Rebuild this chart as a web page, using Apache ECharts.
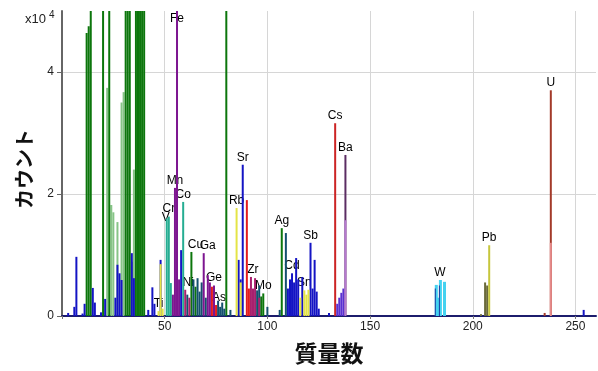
<!DOCTYPE html>
<html>
<head>
<meta charset="utf-8">
<script src="https://cdn.jsdelivr.net/npm/echarts@6/dist/echarts.min.js"></script>
<style>
  html, body { margin: 0; padding: 0; background: #ffffff; }
  #chart { width: 598px; height: 371px; }
</style>
</head>
<body>
<div id="chart"></div>
<script>
// Mass spectrum: counts (x10^4) per mass number, grouped by trace colour.
const massTicks = [0, 50, 100, 150, 200, 250];
const massLabels = [50, 100, 150, 200, 250];
const countTicks = [0, 2, 4];
const countMax = 5;
const massMax = 260;

// major (off-scale) matrix peaks and some element isotopes
const darkGreenMass  = [12, 13, 14, 20, 23, 31, 32, 33, 36, 37, 38, 39, 40, 80, 63, 65, 97, 98, 107];
const darkGreenCount = [4.64, 4.75, 8.5, 8.0, 8.8, 7.5, 9.0, 8.0, 7.2, 8.5, 9.0, 9.5, 9.9, 8.0, 1.05, 0.48, 0.32, 0.37, 1.44];

const lightGreenMass  = [22, 24, 25, 27, 29, 30, 34, 35];
const lightGreenCount = [3.74, 1.82, 1.7, 1.54, 3.5, 3.67, 0.89, 2.4];

const blueMass  = [3, 6, 7, 10, 11, 15, 16, 19, 21, 26, 27, 28, 29, 34, 35, 42, 44, 45, 48, 58, 86, 87, 88,
                   110, 111, 112, 113, 114, 115, 117, 121, 122, 123, 124, 125, 130, 254];
const blueCount = [0.05, 0.15, 0.97, 0.04, 0.2, 0.46, 0.22, 0.06, 0.28, 0.3, 0.84, 0.7, 0.59, 1.03, 0.62, 0.1, 0.47, 0.2, 0.92, 1.08, 0.92, 0.6, 2.48,
                   0.45, 0.6, 0.7, 0.55, 0.95, 0.6, 0.64, 1.2, 0.45, 0.92, 0.4, 0.12, 0.05, 0.1];

const darkTealMass  = [61, 64, 66, 67, 68, 70, 76, 77, 78, 79, 82, 95, 96, 100, 106, 109];
const darkTealCount = [0.35, 0.6, 0.62, 0.4, 0.55, 0.3, 0.25, 0.15, 0.22, 0.12, 0.1, 0.42, 0.5, 0.15, 0.1, 1.36];

const tealMass  = [51, 52, 53, 59];
const tealCount = [1.6, 1.63, 0.54, 1.87];

const yellowMass  = [47, 48, 49, 85, 87, 116, 118, 119, 120];
const yellowCount = [0.08, 0.85, 0.12, 1.77, 0.55, 0.3, 0.42, 0.35, 0.43];

const redMass  = [73, 75, 90, 91];
const redCount = [0.48, 0.18, 1.9, 0.45];

const crimsonMass  = [133];
const crimsonCount = [3.16];

const magentaMass  = [60, 62, 92, 93, 94, 96];
const magentaCount = [0.43, 0.3, 0.64, 0.45, 0.62, 0.3];

const purpleMass  = [54, 55, 56, 57, 69, 71, 72, 74];
const purpleCount = [0.35, 2.1, 9.0, 0.6, 1.03, 0.67, 0.55, 0.5];

const plumMass  = [138];
const plumCount = [2.64];

const violetMass  = [134, 135, 136, 137];
const violetCount = [0.2, 0.3, 0.38, 0.45];

const lilacMass  = [138];
const lilacCount = [1.57];

const cyanMass  = [182, 183, 184, 186];
const cyanCount = [0.51, 0.3, 0.59, 0.56];

// thin dark cores of the tungsten peaks
const navyMass  = [182, 184];
const navyCount = [0.45, 0.5];

const oliveMass  = [204, 206, 207];
const oliveCount = [0.03, 0.55, 0.5];

const goldMass  = [208];
const goldCount = [1.16];

const brownMass  = [235, 238];
const brownCount = [0.05, 3.7];

const roseMass  = [238];
const roseCount = [1.2];

// element labels: name, mass and the trace whose peak carries it
const labelNames = ['Fe', 'Mn', 'Co', 'Cr', 'V', 'Cu', 'Ga', 'Ni', 'Ti', 'Ge', 'As', 'Rb', 'Sr', 'Zr', 'Mo',
                    'Ag', 'Cd', 'Sn', 'Sb', 'Cs', 'Ba', 'W', 'Pb', 'U'];
const labelMass  = [56, 55, 59, 52, 51, 63, 69, 60, 47, 74, 75, 85, 88, 92, 98,
                    107, 112, 118, 121, 133, 138, 184, 208, 238];
const labelTrace = ['purple', 'purple', 'teal', 'teal', 'teal', 'darkGreen', 'purple', 'magenta', 'yellow', 'purple', 'red',
                    'yellow', 'blue', 'magenta', 'darkGreen', 'darkGreen', 'blue', 'yellow', 'blue', 'crimson', 'plum',
                    'cyan', 'gold', 'brown'];

const palette = {
  lightGreen: '#86c486', darkGreen: '#0c760c', blue: '#1414c4', darkTeal: '#14506e',
  teal: '#25ad92', yellow: '#e4e446', red: '#e41c1c', crimson: '#cc2424', magenta: '#a8206e',
  purple: '#7d1590', plum: '#5b2d63', violet: '#5a30d0', lilac: '#b67ad0', cyan: '#44d2f0',
  navy: '#1a3aa0', olive: '#6a6a3a', gold: '#c6c63c', brown: '#a33a2a', rose: '#e58a8a'
};

// drawing order: later traces sit in front; last column is the bar width in px
const traces = [
  ['lightGreen', lightGreenMass, lightGreenCount, 2],
  ['darkGreen', darkGreenMass, darkGreenCount, 2],
  ['blue', blueMass, blueCount, 2],
  ['darkTeal', darkTealMass, darkTealCount, 2],
  ['teal', tealMass, tealCount, 2],
  ['yellow', yellowMass, yellowCount, 2],
  ['red', redMass, redCount, 2],
  ['crimson', crimsonMass, crimsonCount, 2],
  ['magenta', magentaMass, magentaCount, 2],
  ['purple', purpleMass, purpleCount, 2],
  ['plum', plumMass, plumCount, 2],
  ['violet', violetMass, violetCount, 2],
  ['lilac', lilacMass, lilacCount, 2],
  ['cyan', cyanMass, cyanCount, 3],
  ['navy', navyMass, navyCount, 1],
  ['olive', oliveMass, oliveCount, 2],
  ['gold', goldMass, goldCount, 2],
  ['brown', brownMass, brownCount, 2],
  ['rose', roseMass, roseCount, 2]
];

const traceByName = {};
traces.forEach(([key, m, c]) => { traceByName[key] = { m, c }; });

const barSeries = traces.map(([key, m, c, w]) => ({
  type: 'bar',
  name: key,
  data: m.map((x, i) => [x, c[i]]),
  barWidth: w,
  barGap: '-100%',
  itemStyle: { color: palette[key] },
  clip: true,
  silent: true,
  z: 2
}));

// small nudges where neighbouring labels would collide
const labelNudge = { Cu: [4, 0], Ga: [4, 0], V: [-1, 7], Ni: [3, 0], As: [3, 0], Zr: [2, 0] };

const labelData = labelNames.map((name, i) => {
  const t = traceByName[labelTrace[i]];
  const v = t.c[t.m.indexOf(labelMass[i])];
  const clipped = v > countMax;
  return {
    name,
    value: [labelMass[i], Math.min(v, countMax)],
    label: { position: clipped ? 'bottom' : 'top', distance: 1, offset: labelNudge[name] || [0, 0] }
  };
});

const labelSeries = {
  type: 'scatter',
  data: labelData,
  symbol: 'rect',
  symbolSize: 1,
  itemStyle: { color: 'rgba(0,0,0,0)', opacity: 1 },
  silent: true,
  z: 1,
  clip: false,
  label: {
    show: true,
    formatter: p => p.name,
    color: '#000000',
    opacity: 1,
    fontSize: 12,
    fontFamily: 'Liberation Sans, Arial, sans-serif'
  },
  emphasis: { disabled: true }
};

const chart = echarts.init(document.getElementById('chart'), null, { renderer: 'canvas' });
chart.setOption({
  animation: false,
  backgroundColor: '#ffffff',
  grid: { left: 62, right: 2, top: 11, bottom: 55, containLabel: false },
  xAxis: {
    type: 'value',
    min: 0,
    max: massMax,
    name: '質量数',
    nameLocation: 'middle',
    nameGap: 26,
    nameTextStyle: { fontSize: 23, fontWeight: 'bold', color: '#111', fontFamily: 'Noto Sans CJK JP, sans-serif' },
    axisLine: { show: true, lineStyle: { color: '#1c1c6c', width: 2 } },
    axisTick: { show: true, length: 3, customValues: massTicks, lineStyle: { color: '#777' } },
    axisLabel: { customValues: massLabels, color: '#222', fontSize: 12, margin: 5, fontFamily: 'Liberation Sans, Arial, sans-serif' },
    splitLine: { show: true, lineStyle: { color: '#d6d6d6', width: 1 } }
  },
  yAxis: {
    type: 'value',
    min: 0,
    max: countMax,
    axisLine: { show: true, lineStyle: { color: '#666', width: 2 } },
    axisTick: { show: true, length: 5, inside: false, customValues: countTicks, lineStyle: { color: '#666' } },
    axisLabel: { customValues: countTicks, color: '#222', fontSize: 12, margin: 8, fontFamily: 'Liberation Sans, Arial, sans-serif' },
    splitLine: { show: true, lineStyle: { color: '#d6d6d6', width: 1 } }
  },
  graphic: [
    { type: 'text', x: 25, y: 19, style: { text: 'x10', font: '13px Liberation Sans, Arial, sans-serif', fill: '#222', textVerticalAlign: 'middle' } },
    { type: 'text', x: 49, y: 15, style: { text: '4', font: '10px Liberation Sans, Arial, sans-serif', fill: '#222', textVerticalAlign: 'middle' } },
    { type: 'text', x: 24, y: 169, rotation: Math.PI / 2,
      style: { text: 'カウント', font: 'bold 20px Noto Sans CJK JP, sans-serif', fill: '#111', textAlign: 'center', textVerticalAlign: 'middle' } }
  ],
  series: barSeries.concat([labelSeries])
});
</script>
</body>
</html>
